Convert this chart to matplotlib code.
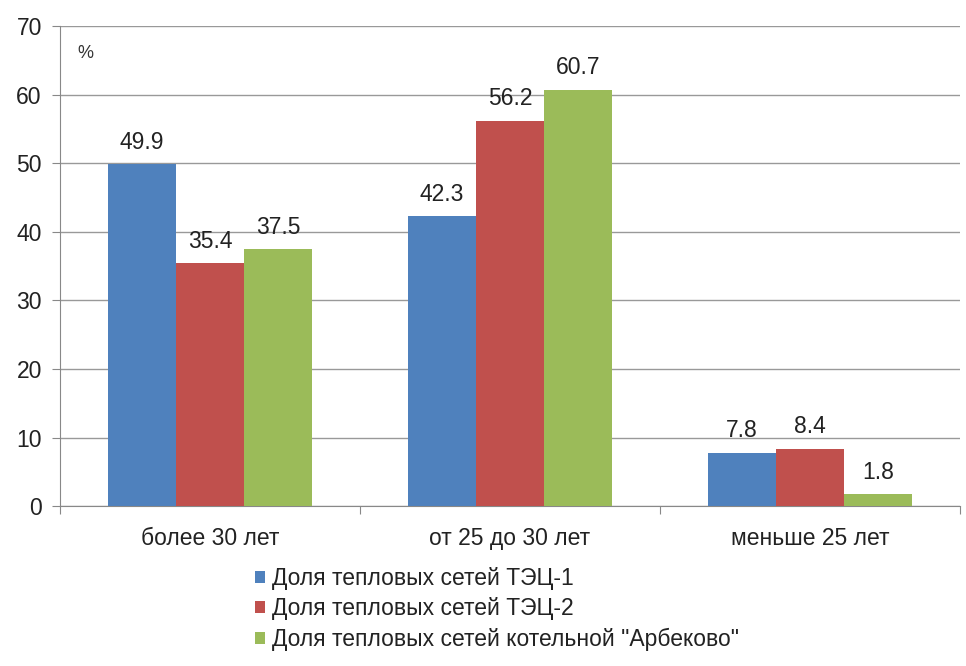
import matplotlib.pyplot as plt
import numpy as np
from matplotlib.patches import Patch

plt.rcParams['font.family'] = ['Liberation Sans', 'DejaVu Sans']

# age groups of the heating networks
categories = ['более 30 лет', 'от 25 до 30 лет', 'меньше 25 лет']
series_names = ['Доля тепловых сетей ТЭЦ-1',
                'Доля тепловых сетей ТЭЦ-2',
                'Доля тепловых сетей котельной "Арбеково"']
tec1 = [49.9, 42.3, 7.8]
tec2 = [35.4, 56.2, 8.4]
arbekovo = [37.5, 60.7, 1.8]
colors = ['#4F81BD', '#C0504D', '#9BBB59']

fs = 16.5
fig = plt.figure(figsize=(9.66, 6.66), dpi=100)
ax = fig.add_axes([0.062, 0.240, 0.932, 0.721])

x = np.arange(len(categories)) + 0.5
w = 0.227
for i, vals in enumerate([tec1, tec2, arbekovo]):
    pos = x + (i - 1) * w
    ax.bar(pos, vals, width=w, color=colors[i], zorder=3)
    for p, v in zip(pos, vals):
        ax.text(p, v + 1.5, f'{v:.1f}', ha='center', va='bottom', fontsize=fs, color='#222222')

ax.set_xlim(0, 3)
ax.set_ylim(0, 70)
ax.set_yticks(range(0, 71, 10))
ax.tick_params(axis='y', labelsize=fs, length=6, color='#888888', pad=7, labelcolor='#222222')
ax.grid(axis='y', color='#999999', linewidth=1, zorder=0)

ax.set_xticks([0, 1, 2, 3])
ax.set_xticklabels([])
ax.set_xticks(x, minor=True)
ax.set_xticklabels(categories, minor=True, fontsize=fs, color='#222222')
ax.tick_params(axis='x', which='major', length=6, color='#888888')
ax.tick_params(axis='x', which='minor', length=0, pad=15)

for side in ['top', 'right']:
    ax.spines[side].set_visible(False)
for side in ['left', 'bottom']:
    ax.spines[side].set_color('#888888')

ax.text(0.057, 65.3, '%', fontsize=13, color='#333333')

handles = [Patch(facecolor=c) for c in colors]
fig.legend(handles, series_names, loc='upper left', bbox_to_anchor=(0.252, 0.166),
           frameon=False, fontsize=fs, handlelength=0.45, handleheight=0.45,
           handletextpad=0.3, labelspacing=0.33, borderpad=0, labelcolor='#222222')

fig.savefig('out.png', dpi=100)
